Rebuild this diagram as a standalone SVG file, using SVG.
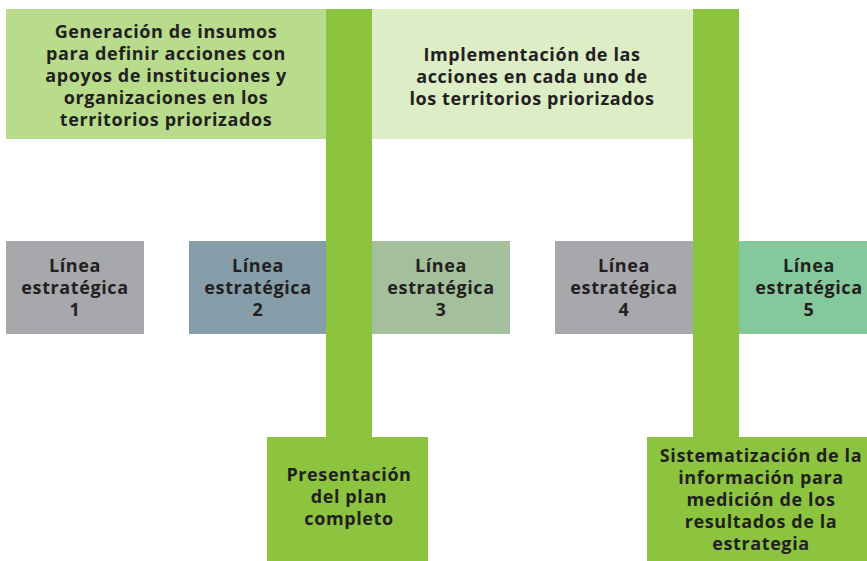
<svg xmlns="http://www.w3.org/2000/svg" width="867" height="561" viewBox="0 0 867 561">
<style>
text{font-family:"Open Sans","Noto Sans","Liberation Sans",sans-serif;font-weight:700;font-size:18px;letter-spacing:0.6px;fill:#231f20;text-anchor:middle}
.bar{fill:#8cc43f}
</style>
<rect width="867" height="561" fill="#ffffff"/>
<g id="connectors">
<rect class="bar" x="326" y="9" width="46" height="430"/>
<rect class="bar" x="693" y="9" width="46" height="430"/>
</g>
<g id="generacion">
<rect x="6" y="9" width="320" height="130" fill="#b9dc8c"/>
<text x="166" y="38">Generación de insumos</text>
<text x="166" y="60">para definir acciones con</text>
<text x="166" y="82">apoyos de instituciones y</text>
<text x="166" y="104">organizaciones en los</text>
<text x="166" y="126">territorios priorizados</text>
</g>
<g id="implementacion">
<rect x="372" y="9" width="321" height="130" fill="#ddedc6"/>
<text x="532" y="61">Implementación de las</text>
<text x="532" y="83">acciones en cada uno de</text>
<text x="532" y="105">los territorios priorizados</text>
</g>
<g id="linea1">
<rect x="6" y="241" width="138" height="93" fill="#a7a8ac"/>
<text x="75" y="272">Línea</text>
<text x="75" y="294">estratégica</text>
<text x="75" y="316">1</text>
</g>
<g id="linea2">
<rect x="189" y="241" width="137" height="93" fill="#869ea9"/>
<text x="258" y="272">Línea</text>
<text x="258" y="294">estratégica</text>
<text x="258" y="316">2</text>
</g>
<g id="linea3">
<rect x="372" y="241" width="138" height="93" fill="#a3bf9c"/>
<text x="441" y="272">Línea</text>
<text x="441" y="294">estratégica</text>
<text x="441" y="316">3</text>
</g>
<g id="linea4">
<rect x="555" y="241" width="138" height="93" fill="#a7a8ac"/>
<text x="624" y="272">Línea</text>
<text x="624" y="294">estratégica</text>
<text x="624" y="316">4</text>
</g>
<g id="linea5">
<rect x="739" y="241" width="128" height="93" fill="#84c99b"/>
<text x="809" y="272">Línea</text>
<text x="809" y="294">estratégica</text>
<text x="809" y="316">5</text>
</g>
<g id="presentacion">
<rect x="267" y="437" width="161" height="124" fill="#8cc43f"/>
<text x="349" y="481">Presentación</text>
<text x="349" y="503">del plan</text>
<text x="349" y="525">completo</text>
</g>
<g id="sistematizacion">
<rect x="647" y="437" width="220" height="124" fill="#8cc43f"/>
<text x="761" y="462">Sistematización de la</text>
<text x="761" y="484">información para</text>
<text x="761" y="506">medición de los</text>
<text x="761" y="528">resultados de la</text>
<text x="761" y="550">estrategia</text>
</g>
</svg>
